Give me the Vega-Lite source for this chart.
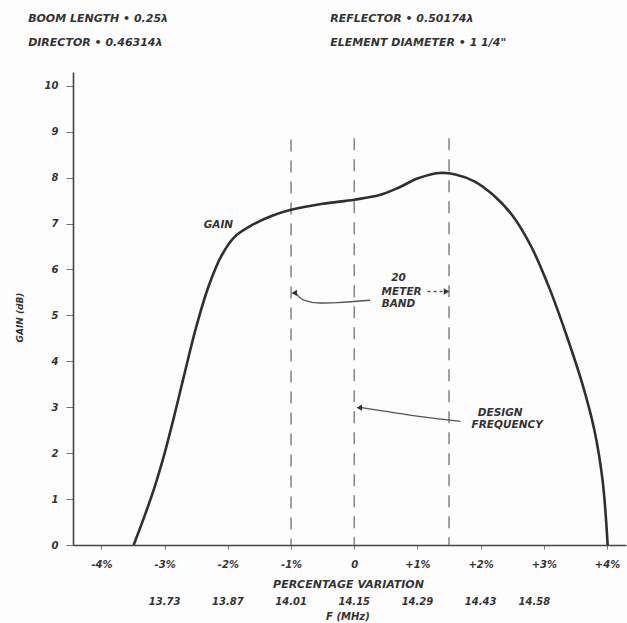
{
  "$schema": "https://vega.github.io/schema/vega-lite/v6.json",
  "width": 553,
  "height": 473,
  "autosize": {"type": "none"},
  "padding": {"left": 73, "top": 72, "right": 1, "bottom": 78},
  "background": "#fdfdfd",
  "config": {
    "view": {"stroke": null},
    "font": "DejaVu Sans",
    "text": {"font": "DejaVu Sans", "fontStyle": "italic", "fontWeight": "bold", "color": "#333", "fill": "#333"},
    "axis": {
      "grid": false,
      "domainColor": "#444",
      "domainWidth": 1.6,
      "tickColor": "#777",
      "labelFont": "DejaVu Sans",
      "labelFontStyle": "italic",
      "labelFontWeight": "bold",
      "labelColor": "#333",
      "labelFontSize": 10,
      "titleFont": "DejaVu Sans",
      "titleFontStyle": "italic",
      "titleFontWeight": "bold",
      "titleColor": "#333",
      "titleFontSize": 10
    }
  },
  "datasets": {
    "curve": [
      {"x": -3.49, "g": 0},
      {"x": -3.3, "g": 0.7},
      {"x": -3.15, "g": 1.3},
      {"x": -3.0, "g": 2.0},
      {"x": -2.85, "g": 2.8},
      {"x": -2.7, "g": 3.65},
      {"x": -2.5, "g": 4.75},
      {"x": -2.3, "g": 5.65},
      {"x": -2.1, "g": 6.3},
      {"x": -1.9, "g": 6.7},
      {"x": -1.6, "g": 6.98},
      {"x": -1.3, "g": 7.17},
      {"x": -1.0, "g": 7.3},
      {"x": -0.5, "g": 7.43},
      {"x": 0.0, "g": 7.52},
      {"x": 0.4, "g": 7.62},
      {"x": 0.7, "g": 7.78},
      {"x": 1.0, "g": 7.98},
      {"x": 1.35, "g": 8.1},
      {"x": 1.6, "g": 8.07},
      {"x": 1.9, "g": 7.92},
      {"x": 2.2, "g": 7.62},
      {"x": 2.5, "g": 7.18},
      {"x": 2.8, "g": 6.5},
      {"x": 3.1, "g": 5.55},
      {"x": 3.35, "g": 4.6},
      {"x": 3.6, "g": 3.55},
      {"x": 3.8, "g": 2.5},
      {"x": 3.93, "g": 1.4},
      {"x": 4.01, "g": 0}
    ],
    "marks": [
      {"x": -1, "top": 8.83, "bottom": 0},
      {"x": 0, "top": 8.86, "bottom": 0},
      {"x": 1.5, "top": 8.86, "bottom": 0}
    ],
    "leaders": [
      {"group": "band", "x": -0.93, "g": 5.49},
      {"group": "band", "x": -0.81, "g": 5.34},
      {"group": "band", "x": -0.54, "g": 5.27},
      {"group": "band", "x": -0.27, "g": 5.28},
      {"group": "band", "x": 0.25, "g": 5.33},
      {"group": "design", "x": 0.12, "g": 2.99},
      {"group": "design", "x": 0.83, "g": 2.84},
      {"group": "design", "x": 1.68, "g": 2.69}
    ],
    "dashedLeader": [
      {"x": 1.16, "g": 5.52},
      {"x": 1.42, "g": 5.52}
    ],
    "heads": [
      {"x": -0.95, "g": 5.49, "dir": "triangle-left"},
      {"x": 1.46, "g": 5.52, "dir": "triangle-right"},
      {"x": 0.08, "g": 2.99, "dir": "triangle-left"}
    ],
    "notes": [
      {"x": -2.15, "g": 6.97, "label": "GAIN"},
      {"x": 0.7, "g": 5.82, "label": "20"},
      {"x": 0.75, "g": 5.52, "label": "METER"},
      {"x": 0.7, "g": 5.25, "label": "BAND"},
      {"x": 2.31, "g": 2.88, "label": "DESIGN"},
      {"x": 2.42, "g": 2.62, "label": "FREQUENCY"}
    ],
    "header": [
      {"x": -5.16, "g": 11.46, "label": "BOOM LENGTH • 0.25λ"},
      {"x": -5.16, "g": 10.93, "label": "DIRECTOR • 0.46314λ"},
      {"x": -0.38, "g": 11.46, "label": "REFLECTOR • 0.50174λ"},
      {"x": -0.38, "g": 10.93, "label": "ELEMENT DIAMETER • 1 1/4\""}
    ],
    "freq": [
      {"x": -3, "g": -1.24, "label": "13.73"},
      {"x": -2, "g": -1.24, "label": "13.87"},
      {"x": -1, "g": -1.24, "label": "14.01"},
      {"x": 0, "g": -1.24, "label": "14.15"},
      {"x": 1, "g": -1.24, "label": "14.29"},
      {"x": 2, "g": -1.24, "label": "14.43"},
      {"x": 2.85, "g": -1.24, "label": "14.58"},
      {"x": -0.1, "g": -1.57, "label": "F  (MHz)"}
    ]
  },
  "layer": [
    {
      "data": {"name": "marks"},
      "mark": {"type": "rule", "color": "#8a8a8a", "strokeWidth": 1.6, "strokeDash": [12, 9]},
      "encoding": {
        "x": {
          "field": "x", "type": "quantitative",
          "scale": {"domain": [-4.45, 4.3], "nice": false, "zero": false},
          "axis": {
            "values": [-4, -3, -2, -1, 0, 1, 2, 3, 4],
            "labelExpr": "datum.value == 0 ? '0' : (datum.value > 0 ? '+' : '-') + abs(datum.value) + '%'",
            "tickSize": 4,
            "labelPadding": 10,
            "title": "PERCENTAGE VARIATION",
            "titlePadding": 9,
            "titleFontSize": 11,
            "titleX": 275,
            "titleAnchor": "middle"
          }
        },
        "y": {
          "field": "top", "type": "quantitative",
          "scale": {"domain": [0, 10.3], "nice": false},
          "axis": {
            "values": [0, 1, 2, 3, 4, 5, 6, 7, 8, 9, 10],
            "tickSize": 7,
            "labelPadding": 8,
            "title": "GAIN (dB)",
            "titlePadding": 20,
            "titleFontSize": 9,
            "titleY": 245,
            "titleAnchor": "middle"
          }
        },
        "y2": {"field": "bottom"}
      }
    },
    {
      "data": {"name": "curve"},
      "mark": {"type": "line", "color": "#2f2f2f", "strokeWidth": 2.6, "interpolate": "catmull-rom"},
      "encoding": {
        "x": {"field": "x", "type": "quantitative"},
        "y": {"field": "g", "type": "quantitative"}
      }
    },
    {
      "data": {"name": "leaders"},
      "mark": {"type": "line", "color": "#555", "strokeWidth": 1.3, "interpolate": "monotone"},
      "encoding": {
        "x": {"field": "x", "type": "quantitative"},
        "y": {"field": "g", "type": "quantitative"},
        "detail": {"field": "group", "type": "nominal"}
      }
    },
    {
      "data": {"name": "dashedLeader"},
      "mark": {"type": "line", "color": "#555", "strokeWidth": 1.3, "strokeDash": [3, 3]},
      "encoding": {
        "x": {"field": "x", "type": "quantitative"},
        "y": {"field": "g", "type": "quantitative"}
      }
    },
    {
      "data": {"name": "heads"},
      "mark": {"type": "point", "filled": true, "color": "#333", "size": 40, "opacity": 1},
      "encoding": {
        "x": {"field": "x", "type": "quantitative"},
        "y": {"field": "g", "type": "quantitative"},
        "shape": {"field": "dir", "type": "nominal", "scale": null, "legend": null}
      }
    },
    {
      "data": {"name": "notes"},
      "mark": {"type": "text", "fontSize": 10.5, "align": "center", "baseline": "middle"},
      "encoding": {
        "x": {"field": "x", "type": "quantitative"},
        "y": {"field": "g", "type": "quantitative"},
        "text": {"field": "label", "type": "nominal"}
      }
    },
    {
      "data": {"name": "header"},
      "mark": {"type": "text", "fontSize": 11, "align": "left", "baseline": "middle"},
      "encoding": {
        "x": {"field": "x", "type": "quantitative"},
        "y": {"field": "g", "type": "quantitative"},
        "text": {"field": "label", "type": "nominal"}
      }
    },
    {
      "data": {"name": "freq"},
      "mark": {"type": "text", "fontSize": 10, "align": "center", "baseline": "middle"},
      "encoding": {
        "x": {"field": "x", "type": "quantitative"},
        "y": {"field": "g", "type": "quantitative"},
        "text": {"field": "label", "type": "nominal"}
      }
    }
  ]
}
